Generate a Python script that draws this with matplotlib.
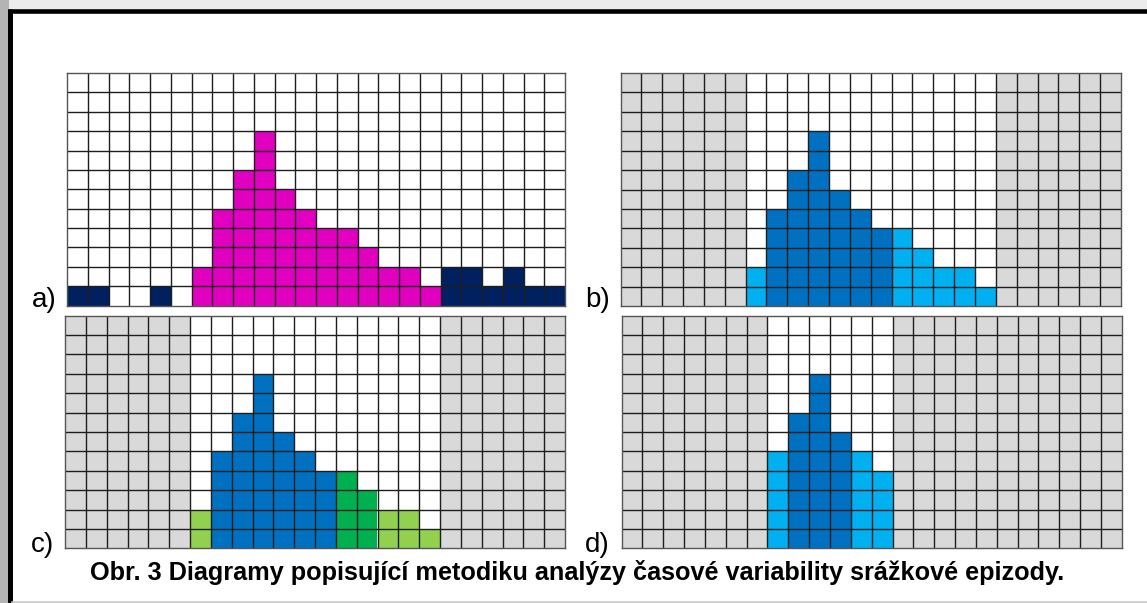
import matplotlib
matplotlib.use("Agg")
import matplotlib.pyplot as plt
from matplotlib.lines import Line2D
from matplotlib.patches import Rectangle

plt.rcParams['font.family'] = ['Liberation Sans', 'DejaVu Sans']

# ---- data ----
n_cols = 24
n_rows = 12
columns = list(range(n_cols))

# panel a: full series (24 time steps)
a_heights = [1, 1, 0, 0, 1, 0, 2, 5, 7, 9, 6, 5, 4, 4, 3, 2, 2, 1, 2, 2, 1, 2, 1, 1]
a_classes = ['n', 'n', 'n', 'n', 'n', 'n', 'm', 'm', 'm', 'm', 'm', 'm',
             'm', 'm', 'm', 'm', 'm', 'm', 'n', 'n', 'n', 'n', 'n', 'n']

# panel b: episode window cols 6-17
b_heights = [0, 0, 0, 0, 0, 0, 2, 5, 7, 9, 6, 5, 4, 4, 3, 2, 2, 1, 0, 0, 0, 0, 0, 0]
b_classes = ['-', '-', '-', '-', '-', '-', 'L', 'D', 'D', 'D', 'D', 'D',
             'D', 'L', 'L', 'L', 'L', 'L', '-', '-', '-', '-', '-', '-']
b_window = (6, 18)

# panel c
c_heights = [0, 0, 0, 0, 0, 0, 2, 5, 7, 9, 6, 5, 4, 4, 3, 2, 2, 1, 0, 0, 0, 0, 0, 0]
c_classes = ['-', '-', '-', '-', '-', '-', 'g', 'D', 'D', 'D', 'D', 'D',
             'D', 'G', 'G', 'g', 'g', 'g', '-', '-', '-', '-', '-', '-']
c_window = (6, 18)

# panel d
d_heights = [0, 0, 0, 0, 0, 0, 0, 5, 7, 9, 6, 5, 4, 0, 0, 0, 0, 0, 0, 0, 0, 0, 0, 0]
d_classes = ['-', '-', '-', '-', '-', '-', '-', 'L', 'D', 'D', 'D', 'L',
             'L', '-', '-', '-', '-', '-', '-', '-', '-', '-', '-', '-']
d_window = (7, 13)

panel_labels = ['a)', 'b)', 'c)', 'd)']
caption = "Obr. 3 Diagramy popisující metodiku analýzy časové variability srážkové epizody."

palette = {'n': '#002060', 'm': '#E100BF', 'D': '#0070C0', 'L': '#00B0F0',
           'G': '#00B050', 'g': '#92D050', '-': 'white'}
GRAY = '#D9D9D9'

W, H = 1147, 603
fig = plt.figure(figsize=(W / 100, H / 100), dpi=100)
fig.patch.set_facecolor('white')

def fx(px):
    return px / W

def fy(py):
    return 1 - py / H

# background outside frame (scan margins)
fig.patches.append(Rectangle((0, fy(9)), 1, 1 - fy(9), transform=fig.transFigure,
                             facecolor='#ececec', edgecolor='none', zorder=0))
fig.patches.append(Rectangle((0, 0), fx(9), 1, transform=fig.transFigure,
                             facecolor='#b4b4b4', edgecolor='none', zorder=0))

# frame
fig.add_artist(Line2D([fx(8), 1], [fy(10.8), fy(10.8)], transform=fig.transFigure,
                      color='black', lw=3.3, solid_capstyle='butt'))
fig.add_artist(Line2D([fx(10.2), fx(10.2)], [0, fy(8.5)], transform=fig.transFigure,
                      color='black', lw=3.6, solid_capstyle='butt'))
fig.add_artist(Line2D([fx(12), 1], [fy(601.5), fy(601.5)], transform=fig.transFigure,
                      color='#c8c8c8', lw=1.2))

# panel rectangles in pixels: (x0, x1, y0, y1)
boxes = [(67, 565, 73, 305.5), (620.5, 1121, 73, 306),
         (65, 565, 315.7, 548.3), (621.6, 1121.8, 315.7, 548.3)]

panels = [(a_heights, a_classes, None), (b_heights, b_classes, b_window),
          (c_heights, c_classes, c_window), (d_heights, d_classes, d_window)]

for (x0, x1, y0, y1), (heights, classes, window) in zip(boxes, panels):
    ax = fig.add_axes([fx(x0), fy(y1), fx(x1 - x0), (y1 - y0) / H])
    ax.set_xlim(0, n_cols)
    ax.set_ylim(0, n_rows)
    if window is not None:
        ax.axvspan(0, window[0], color=GRAY, zorder=0, lw=0)
        ax.axvspan(window[1], n_cols, color=GRAY, zorder=0, lw=0)
    ax.bar(columns, heights, width=1, align='edge',
           color=[palette[c] for c in classes], edgecolor='none', zorder=1)
    for i in range(1, n_cols):
        ax.axvline(i, color='#1e1e1e', lw=1.0, zorder=3)
    for j in range(1, n_rows):
        ax.axhline(j, color='#1e1e1e', lw=1.0, zorder=3)
    ax.set_xticks([])
    ax.set_yticks([])
    for s in ax.spines.values():
        s.set_color('#555555')
        s.set_linewidth(1.0)
        s.set_zorder(4)

label_pos = [(31.5, 307), (585, 307), (31, 552), (585, 552)]
for lab, (px, py) in zip(panel_labels, label_pos):
    fig.text(fx(px), fy(py), lab, fontsize=20, ha='left', va='baseline', color='black')

fig.text(fx(577), fy(580), caption, fontsize=18.2, fontweight='bold',
         ha='center', va='baseline', color='black')

fig.savefig('out.png', dpi=100)
